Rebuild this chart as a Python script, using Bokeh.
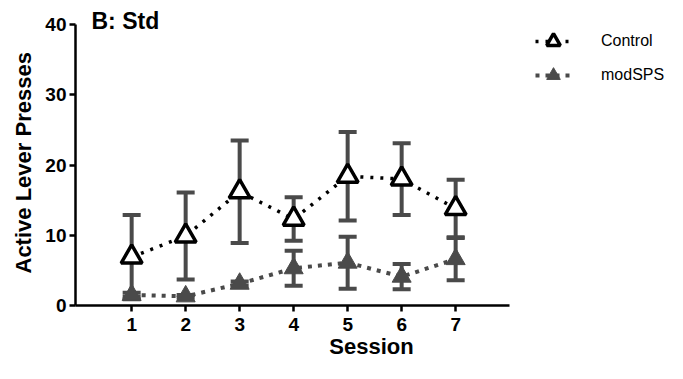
from bokeh.plotting import figure
from bokeh.models import (ColumnDataSource, Whisker, TeeHead, Legend, LegendItem,
                          FixedTicker, Range1d, Label, Title)
from bokeh.embed import file_html
from bokeh.resources import INLINE

sessions = [1, 2, 3, 4, 5, 6, 7]
control_mean = [6.9, 9.9, 16.2, 12.3, 18.4, 18.0, 13.8]
control_err = [6.0, 6.2, 7.3, 3.1, 6.3, 5.1, 4.1]
modsps_mean = [1.5, 1.3, 3.1, 5.3, 6.1, 4.1, 6.6]
modsps_err = [0.3, 0.2, 0.3, 2.5, 3.7, 1.8, 3.0]
y_ticks = [0, 10, 20, 30, 40]

FONT = "Liberation Sans"
GRAY = "#4a4a4a"

FW, FH = 592, 305
p = figure(frame_width=FW, frame_height=FH, output_backend="svg", toolbar_location=None,
           x_range=Range1d(-0.04, -0.04 + FW / 54.0), y_range=Range1d(0, FH / 7.025),
           min_border_left=75, min_border_top=0, min_border_bottom=40, min_border_right=0)
p.outline_line_color = None
p.xgrid.visible = False
p.ygrid.visible = False
p.background_fill_color = None

def src(mean, err):
    return ColumnDataSource(dict(x=sessions, y=mean,
                                 upper=[m + e for m, e in zip(mean, err)],
                                 lower=[m - e for m, e in zip(mean, err)]))

cs = src(control_mean, control_err)
ms = src(modsps_mean, modsps_err)

cl = p.line("x", "y", source=cs, line_color="black", line_width=3.5, line_dash="3 7")
ml = p.line("x", "y", source=ms, line_color=GRAY, line_width=4, line_dash="4 6")

for s in (cs, ms):
    w = Whisker(base="x", upper="upper", lower="lower", source=s,
                line_color=GRAY, line_width=4,
                upper_head=TeeHead(size=18, line_color=GRAY, line_width=4),
                lower_head=TeeHead(size=18, line_color=GRAY, line_width=4))
    p.add_layout(w)

mm = p.scatter("x", "y", source=ms, marker="triangle", size=19, fill_color=GRAY, line_color=GRAY, line_width=1)
cm = p.scatter("x", "y", source=cs, marker="triangle", size=21, fill_color="white", line_color="black", line_width=3.5)

title = Label(x=16, y=FH - 20, x_units="screen", y_units="screen", text="B: Std",
              text_font=FONT, text_font_size="23px", text_font_style="bold",
              text_color="black", text_baseline="middle", text_align="left")
p.add_layout(title)

for ax in (p.xaxis[0], p.yaxis[0]):
    ax.axis_line_width = 2.5
    ax.major_tick_line_width = 2.5
    ax.major_tick_in = 0
    ax.major_tick_out = 6
    ax.minor_tick_line_color = None
    ax.major_label_text_font = FONT
    ax.major_label_text_font_style = "bold"
    ax.major_label_text_font_size = "19px"
    ax.major_label_text_color = "black"
    ax.axis_label_text_font = FONT
    ax.axis_label_text_font_style = "bold"
    ax.axis_label_text_font_size = "22px"
    ax.axis_label_text_color = "black"

p.xaxis.ticker = FixedTicker(ticks=sessions)
p.yaxis.ticker = FixedTicker(ticks=y_ticks)
p.xaxis.bounds = (-0.04, 8.0)
p.yaxis.bounds = (0, 40)
p.xaxis.axis_label = "Session"
p.xaxis.major_label_standoff = 6
p.xaxis.axis_label_standoff = 0
p.yaxis.major_label_standoff = 3

ylab = Title(text="Active Lever Presses", align="left", offset=32, standoff=14,
             text_font=FONT, text_font_size="22px", text_font_style="bold",
             text_color="black")
p.add_layout(ylab, "left")

legend = Legend(items=[LegendItem(label="Control", renderers=[cl, cm]),
                       LegendItem(label="modSPS", renderers=[ml, mm])],
                location=(460, FH - 92), label_text_font=FONT, label_text_font_size="16px",
                label_text_color="black",
                border_line_color=None, background_fill_alpha=0,
                glyph_width=36, glyph_height=34, spacing=-2, label_standoff=30,
                label_height=34, margin=0, padding=0)
p.add_layout(legend)

open("out.html", "w").write(file_html(p, INLINE))
